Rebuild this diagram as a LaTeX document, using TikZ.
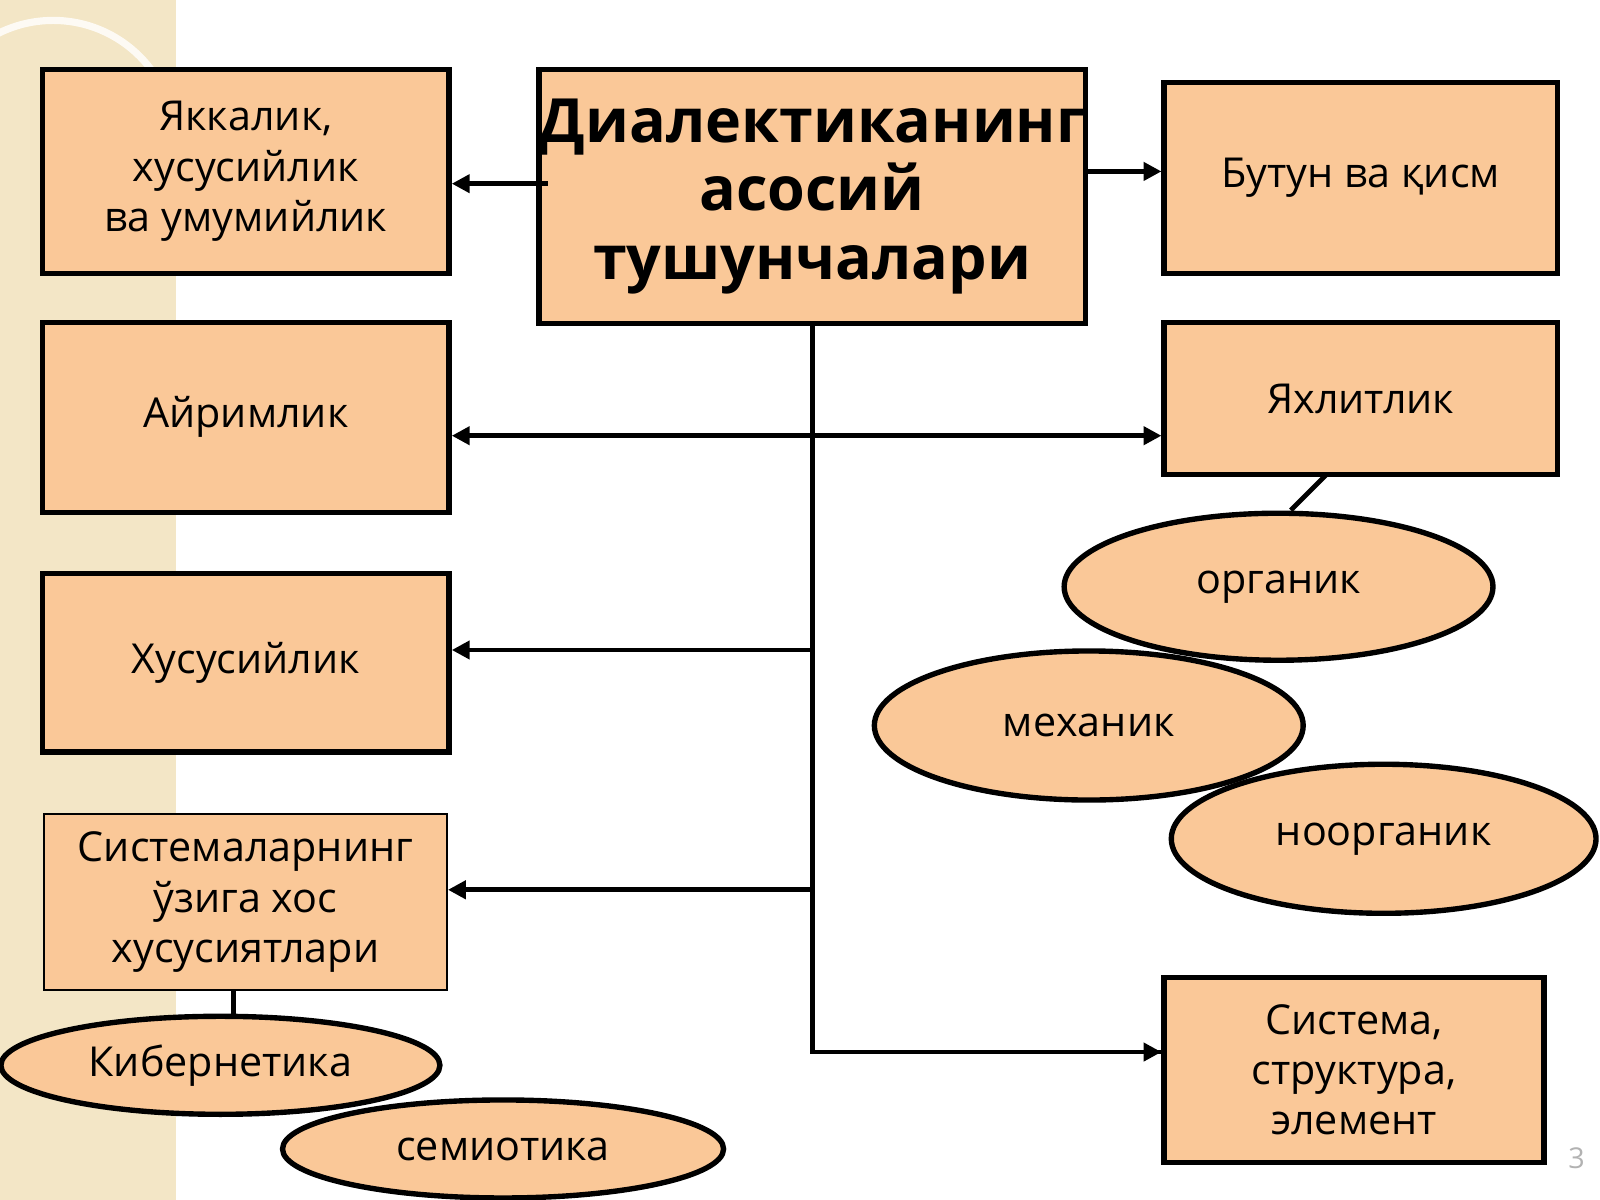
\documentclass[tikz,border=0pt]{standalone}
\usepackage{fontspec}
\setmainfont{Open Sans}
\usetikzlibrary{shapes.geometric,arrows.meta}
\definecolor{peach}{HTML}{FAC898}
\definecolor{strip}{HTML}{F3E6C6}
\begin{document}
\begin{tikzpicture}[x=0.01cm,y=-0.01cm,
 bx/.style={draw=black,line width=1.5pt,fill=peach,align=center,font=\fontsize{11.5}{14}\selectfont,inner sep=0pt},
 el/.style={ellipse,draw=black,line width=1.5pt,fill=peach,font=\fontsize{11.5}{14}\selectfont,inner sep=0pt},
 ln/.style={line width=1.3pt},
 ar/.style={ln,-{Triangle[length=5pt,width=5pt]}}]
\useasboundingbox (0,0) rectangle (1568,1176);
\fill[strip] (0,0) rectangle (172,1176);
\draw[white!80!strip,line width=2pt] (172,140) arc (0:-200:120);
\node[bx,minimum width=398\pgflinewidth,minimum width=3.98cm,minimum height=2cm] (a) at (241,168) {Яккалик,\\хусусийлик\\ва умумийлик};
\node[bx,minimum width=4.96cm,minimum height=2.49cm,font=\bfseries\fontsize{17}{19}\selectfont] (t) at (796,192.5) {Диалектиканинг\\асосий\\тушунчалари};
\node[bx,minimum width=3.85cm,minimum height=1.87cm] (b) at (1333.5,174.5) {Бутун ва қисм};
\node[bx,minimum width=3.98cm,minimum height=1.86cm] (c) at (241,409) {Айримлик};
\node[bx,minimum width=3.85cm,minimum height=1.49cm] (d) at (1333.5,390.5) {Яхлитлик};
\node[bx,minimum width=3.98cm,minimum height=1.75cm] (e) at (241,649.5) {Хусусийлик};
\node[bx,line width=0.5pt,minimum width=3.95cm,minimum height=1.72cm] (f) at (240.5,884) {Системаларнинг\\ўзига хос\\хусусиятлари};
\node[bx,minimum width=3.72cm,minimum height=1.81cm] (g) at (1327,1048.5) {Система,\\структура,\\элемент};
\draw[ln] (1300,465) -- (1265,500);
\draw[ln] (229,970) -- (229,995);
\node[el,minimum width=4.2cm,minimum height=1.44cm] (o1) at (1253,575) {органик};
\node[el,minimum width=4.2cm,minimum height=1.46cm] (o2) at (1067,711) {механик};
\node[el,minimum width=4.16cm,minimum height=1.46cm] (o3) at (1356,822) {ноорганик};
\node[el,minimum width=4.3cm,minimum height=0.96cm] (k) at (216,1044) {Кибернетика};
\node[el,minimum width=4.32cm,minimum height=0.96cm] (s) at (493,1126) {семиотика};
\coordinate (m) at (537,180);
\coordinate (v0) at (796,317);
\coordinate (v1) at (796,1031);
\draw[ar] (m) -- (a.east |- m);
\draw[ar] (t.east |- 0,168) -- (b.west |- 0,168);
\draw[ln,{Triangle[length=5pt,width=5pt]}-{Triangle[length=5pt,width=5pt]}] (c.east |- 0,427) -- (d.west |- 0,427);
\draw[ln] (t.south) -- (v1) -- (g.west |- v1);
\draw[ar] (v1) -- (g.west |- v1);
\draw[ar] (796,637) -- (e.east |- 0,637);
\draw[ar] (796,872) -- (f.east |- 0,872);
\node[text=gray!60,font=\fontsize{8}{9}\selectfont] (pg) at (1545,1135) {3};
\end{tikzpicture}
\end{document}
